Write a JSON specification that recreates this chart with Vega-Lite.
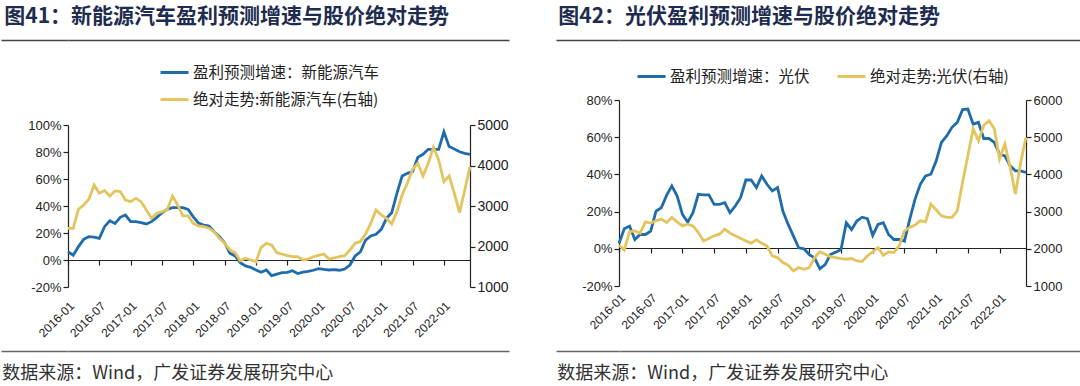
{
  "$schema": "https://vega.github.io/schema/vega-lite/v6.json",
  "background": "white",
  "padding": {"left": 0, "top": 6, "right": 0, "bottom": 0},
  "spacing": 46,
  "resolve": {"scale": {"color": "independent"}, "legend": {"color": "independent"}},
  "config": {
    "view": {"stroke": null},
    "font": "Liberation Sans",
    "axis": {"labelFont": "Liberation Sans", "labelColor": "#222", "labelFontSize": 13, "domainColor": "#222", "tickColor": "#222", "grid": false, "title": null, "tickSize": 5, "domainWidth": 1.2, "tickWidth": 1.2},
    "legend": {"layout": {"top": {"anchor": "middle"}}}
  },
  "datasets": {
    "nev": [
      {"d":"2016-01","g":6.1,"p":2450},{"d":"2016-02","g":3.5,"p":2450},{"d":"2016-03","g":9.9,"p":2919},{"d":"2016-04","g":15.3,"p":3025},{"d":"2016-05","g":17.3,"p":3166},{"d":"2016-06","g":17,"p":3519},{"d":"2016-07","g":16,"p":3314},{"d":"2016-08","g":24.7,"p":3380},{"d":"2016-09","g":29,"p":3248},{"d":"2016-10","g":27,"p":3371},{"d":"2016-11","g":31.6,"p":3355},{"d":"2016-12","g":33.3,"p":3149},
      {"d":"2017-01","g":28.4,"p":3107},{"d":"2017-02","g":28.4,"p":3190},{"d":"2017-03","g":27.7,"p":3107},{"d":"2017-04","g":26.7,"p":2902},{"d":"2017-05","g":28.4,"p":2697},{"d":"2017-06","g":31.6,"p":2820},{"d":"2017-07","g":35,"p":2860},{"d":"2017-08","g":37.5,"p":2902},{"d":"2017-09","g":38.8,"p":3248},{"d":"2017-10","g":38.8,"p":3025},{"d":"2017-11","g":38.8,"p":2754},{"d":"2017-12","g":37.5,"p":2754},
      {"d":"2018-01","g":32,"p":2573},{"d":"2018-02","g":27.3,"p":2510},{"d":"2018-03","g":25.9,"p":2490},{"d":"2018-04","g":25.2,"p":2450},{"d":"2018-05","g":21,"p":2366},{"d":"2018-06","g":17.3,"p":2203},{"d":"2018-07","g":12.8,"p":2079},{"d":"2018-08","g":5,"p":1914},{"d":"2018-09","g":3,"p":1847},{"d":"2018-10","g":-2,"p":1650},{"d":"2018-11","g":-4.4,"p":1709},{"d":"2018-12","g":-5.4,"p":1667},
      {"d":"2019-01","g":-7.4,"p":1625},{"d":"2019-02","g":-9.1,"p":1981},{"d":"2019-03","g":-7.4,"p":2079},{"d":"2019-04","g":-11.6,"p":2037},{"d":"2019-05","g":-10.4,"p":1847},{"d":"2019-06","g":-9.4,"p":1815},{"d":"2019-07","g":-9.1,"p":1773},{"d":"2019-08","g":-7.9,"p":1748},{"d":"2019-09","g":-10,"p":1748},{"d":"2019-10","g":-9,"p":1667},{"d":"2019-11","g":-8.4,"p":1690},{"d":"2019-12","g":-7.6,"p":1748},
      {"d":"2020-01","g":-6.4,"p":1783},{"d":"2020-02","g":-7,"p":1815},{"d":"2020-03","g":-7.4,"p":1690},{"d":"2020-04","g":-7.2,"p":1720},{"d":"2020-05","g":-7.6,"p":1748},{"d":"2020-06","g":-6.7,"p":1773},{"d":"2020-07","g":-3.7,"p":1914},{"d":"2020-08","g":3,"p":2079},{"d":"2020-09","g":6.1,"p":2120},{"d":"2020-10","g":14.8,"p":2309},{"d":"2020-11","g":17.8,"p":2573},{"d":"2020-12","g":19,"p":2902},
      {"d":"2021-01","g":22.7,"p":2778},{"d":"2021-02","g":30.9,"p":2697},{"d":"2021-03","g":35,"p":2556},{"d":"2021-04","g":49.4,"p":2860},{"d":"2021-05","g":62.2,"p":3272},{"d":"2021-06","g":64.2,"p":3561},{"d":"2021-07","g":65.4,"p":3907},{"d":"2021-08","g":76,"p":4055},{"d":"2021-09","g":78.3,"p":3742},{"d":"2021-10","g":82,"p":4055},{"d":"2021-11","g":82,"p":4450},{"d":"2021-12","g":82,"p":4137},
      {"d":"2022-01","g":95,"p":3601},{"d":"2022-02","g":84,"p":3742},{"d":"2022-03","g":82.2,"p":3314},{"d":"2022-04","g":80.2,"p":2835},{"d":"2022-05","g":79,"p":3396},{"d":"2022-06","g":78.3,"p":3971}
    ],
    "pv": [
      {"d":"2016-01","g":2.9,"p":2097},{"d":"2016-02","g":10.8,"p":1970},{"d":"2016-03","g":12.2,"p":2456},{"d":"2016-04","g":5,"p":2482},{"d":"2016-05","g":7.7,"p":2420},{"d":"2016-06","g":7.7,"p":2725},{"d":"2016-07","g":9.5,"p":2690},{"d":"2016-08","g":20.3,"p":2752},{"d":"2016-09","g":22.1,"p":2798},{"d":"2016-10","g":28.7,"p":2709},{"d":"2016-11","g":33.8,"p":2843},{"d":"2016-12","g":28.4,"p":2725},
      {"d":"2017-01","g":18.5,"p":2617},{"d":"2017-02","g":14.3,"p":2663},{"d":"2017-03","g":19.4,"p":2617},{"d":"2017-04","g":29.3,"p":2439},{"d":"2017-05","g":29,"p":2213},{"d":"2017-06","g":29,"p":2277},{"d":"2017-07","g":23.9,"p":2348},{"d":"2017-08","g":23.9,"p":2393},{"d":"2017-09","g":24.8,"p":2528},{"d":"2017-10","g":19.4,"p":2420},{"d":"2017-11","g":23,"p":2348},{"d":"2017-12","g":27.5,"p":2286},
      {"d":"2018-01","g":37,"p":2213},{"d":"2018-02","g":37,"p":2151},{"d":"2018-03","g":32.9,"p":2240},{"d":"2018-04","g":39.2,"p":2151},{"d":"2018-05","g":34.7,"p":2078},{"d":"2018-06","g":31.1,"p":1809},{"d":"2018-07","g":32.9,"p":1765},{"d":"2018-08","g":20.3,"p":1631},{"d":"2018-09","g":13.1,"p":1558},{"d":"2018-10","g":6.8,"p":1404},{"d":"2018-11","g":0.5,"p":1496},{"d":"2018-12","g":0,"p":1450},
      {"d":"2019-01","g":-3.1,"p":1496},{"d":"2019-02","g":-4.9,"p":1765},{"d":"2019-03","g":-10.8,"p":1920},{"d":"2019-04","g":-8.5,"p":1854},{"d":"2019-05","g":-3.1,"p":1792},{"d":"2019-06","g":-1.8,"p":1765},{"d":"2019-07","g":-0.4,"p":1738},{"d":"2019-08","g":14,"p":1720},{"d":"2019-09","g":10.4,"p":1738},{"d":"2019-10","g":14.9,"p":1674},{"d":"2019-11","g":17,"p":1657},{"d":"2019-12","g":16.2,"p":1809},
      {"d":"2020-01","g":7.2,"p":1916},{"d":"2020-02","g":13.1,"p":2035},{"d":"2020-03","g":14,"p":1827},{"d":"2020-04","g":7.7,"p":1916},{"d":"2020-05","g":5,"p":1900},{"d":"2020-06","g":5,"p":2078},{"d":"2020-07","g":4.1,"p":2482},{"d":"2020-08","g":15.8,"p":2574},{"d":"2020-09","g":26.6,"p":2636},{"d":"2020-10","g":34.7,"p":2752},{"d":"2020-11","g":39.2,"p":2725},{"d":"2020-12","g":40.1,"p":3202},
      {"d":"2021-01","g":47.2,"p":3049},{"d":"2021-02","g":57.2,"p":2887},{"d":"2021-03","g":60.7,"p":2843},{"d":"2021-04","g":65.3,"p":2843},{"d":"2021-05","g":68,"p":3022},{"d":"2021-06","g":74.8,"p":3787},{"d":"2021-07","g":75.1,"p":4504},{"d":"2021-08","g":67,"p":5224},{"d":"2021-09","g":68,"p":4908},{"d":"2021-10","g":59.3,"p":5313},{"d":"2021-11","g":59.3,"p":5447},{"d":"2021-12","g":57.2,"p":5224},
      {"d":"2022-01","g":50.9,"p":4415},{"d":"2022-02","g":50,"p":4819},{"d":"2022-03","g":44.6,"p":4191},{"d":"2022-04","g":41.9,"p":3472},{"d":"2022-05","g":41.9,"p":4326},{"d":"2022-06","g":41,"p":5000}
    ]
  },
  "hconcat": [
    {
      "spacing": 10,
      "resolve": {"scale": {"color": "independent"}, "legend": {"color": "independent"}},
      "vconcat": [
        {
          "data": {"values": [{}]},
          "mark": {"type": "point", "opacity": 0},
          "encoding": {
            "x": {"datum": 0, "type": "quantitative", "scale": {"domain": [0, 1]}, "axis": {"orient": "bottom", "ticks": false, "labels": false, "domainColor": "#444", "domainWidth": 1.5}},
            "y": {"datum": 0, "type": "quantitative", "scale": {"domain": [0, 1]}, "axis": {"orient": "left", "values": [0], "tickSize": 67, "tickWidth": 1.5, "tickColor": "#444", "labels": false, "domain": false}}
          },
          "width": 441, "height": 1,
          "title": {"text": "图41：新能源汽车盈利预测增速与股价绝对走势", "anchor": "start", "frame": "bounds", "dx": 4, "offset": 10, "font": "Noto Sans CJK SC", "fontSize": 21, "fontWeight": "bold", "color": "#1e2c4f"}
        },
        {
          "data": {"name": "nev"},
          "width": 402, "height": 162,
          "encoding": {
            "x": {"field": "d", "type": "ordinal", "scale": {"type": "point", "padding": 0},
                  "axis": {"values": ["2016-01","2016-07","2017-01","2017-07","2018-01","2018-07","2019-01","2019-07","2020-01","2020-07","2021-01","2021-07","2022-01"], "labelAngle": -45, "offset": -27, "labelPadding": 35, "labelFontSize": 12}}
          },
          "layer": [
            {
              "mark": {"type": "line", "strokeWidth": 2.8},
              "encoding": {
                "y": {"field": "g", "type": "quantitative", "scale": {"domain": [-20, 100]},
                      "axis": {"orient": "left", "values": [-20,0,20,40,60,80,100], "labelExpr": "datum.value + '%'", "minExtent": 67}},
                "color": {"datum": "盈利预测增速：新能源汽车", "type": "nominal",
                          "scale": {"domain": ["盈利预测增速：新能源汽车", "绝对走势:新能源汽车(右轴)"], "range": ["#1f6cab", "#e3c45e"]},
                          "legend": {"orient": "top", "direction": "vertical", "title": null, "symbolType": "stroke", "symbolSize": 784, "symbolStrokeWidth": 3, "labelFont": "Noto Sans CJK SC", "labelFontSize": 15.5, "labelColor": "#222", "padding": 4, "offset": 13, "rowPadding": 3, "labelOffset": 3, "labelLimit": 400}}
              }
            },
            {
              "mark": {"type": "line", "strokeWidth": 2.8},
              "encoding": {
                "y": {"field": "p", "type": "quantitative", "scale": {"domain": [1000, 5000]},
                      "axis": {"orient": "right", "values": [1000,2000,3000,4000,5000], "format": "d", "labelFontSize": 14, "minExtent": 39}},
                "color": {"datum": "绝对走势:新能源汽车(右轴)", "type": "nominal"}
              }
            }
          ],
          "resolve": {"scale": {"y": "independent"}}
        },
        {
          "data": {"values": [{}]},
          "mark": {"type": "point", "opacity": 0},
          "encoding": {
            "x": {"datum": 0, "type": "quantitative", "scale": {"domain": [0, 1]}, "axis": {"orient": "top", "ticks": false, "labels": false, "domainColor": "#666", "domainWidth": 1.5}},
            "y": {"datum": 0, "type": "quantitative", "scale": {"domain": [0, 1]}, "axis": {"orient": "left", "values": [1], "tickSize": 67, "tickWidth": 1.5, "tickColor": "#666", "labels": false, "domain": false}}
          },
          "width": 441, "height": 1,
          "title": {"text": "数据来源：Wind，广发证券发展研究中心", "orient": "bottom", "anchor": "start", "frame": "bounds", "dx": 2, "offset": 10, "font": "Noto Sans CJK SC", "fontSize": 18, "fontWeight": "normal", "color": "#333"}
        }
      ]
    },
    {
      "spacing": 18,
      "resolve": {"scale": {"color": "independent"}, "legend": {"color": "independent"}},
      "vconcat": [
        {
          "data": {"values": [{}]},
          "mark": {"type": "point", "opacity": 0},
          "encoding": {
            "x": {"datum": 0, "type": "quantitative", "scale": {"domain": [0, 1]}, "axis": {"orient": "bottom", "ticks": false, "labels": false, "domainColor": "#444", "domainWidth": 1.5}},
            "y": {"datum": 0, "type": "quantitative", "scale": {"domain": [0, 1]}, "axis": {"orient": "left", "values": [0], "tickSize": 63, "tickWidth": 1.5, "tickColor": "#444", "labels": false, "domain": false}}
          },
          "width": 463, "height": 1,
          "title": {"text": "图42：光伏盈利预测增速与股价绝对走势", "anchor": "start", "frame": "bounds", "dx": 3, "offset": 10, "font": "Noto Sans CJK SC", "fontSize": 21, "fontWeight": "bold", "color": "#1e2c4f"}
        },
        {
          "data": {"name": "pv"},
          "width": 407, "height": 186,
          "encoding": {
            "x": {"field": "d", "type": "ordinal", "scale": {"type": "point", "padding": 0},
                  "axis": {"values": ["2016-01","2016-07","2017-01","2017-07","2018-01","2018-07","2019-01","2019-07","2020-01","2020-07","2021-01","2021-07","2022-01"], "labelAngle": -45, "offset": -38, "labelPadding": 39, "labelFontSize": 12}}
          },
          "layer": [
            {
              "mark": {"type": "line", "strokeWidth": 2.8},
              "encoding": {
                "y": {"field": "g", "type": "quantitative", "scale": {"domain": [-20, 80]},
                      "axis": {"orient": "left", "values": [-20,0,20,40,60,80], "labelExpr": "datum.value + '%'", "minExtent": 63}},
                "color": {"datum": "盈利预测增速：光伏", "type": "nominal",
                          "scale": {"domain": ["盈利预测增速：光伏", "绝对走势:光伏(右轴)"], "range": ["#1f6cab", "#e3c45e"]},
                          "legend": {"orient": "top", "direction": "horizontal", "title": null, "symbolType": "stroke", "symbolSize": 784, "symbolStrokeWidth": 3, "labelFont": "Noto Sans CJK SC", "labelFontSize": 15.5, "labelColor": "#222", "padding": 0, "offset": 15, "columnPadding": 21, "labelOffset": 3, "labelLimit": 400}}
              }
            },
            {
              "mark": {"type": "line", "strokeWidth": 2.8},
              "encoding": {
                "y": {"field": "p", "type": "quantitative", "scale": {"domain": [1000, 6000]},
                      "axis": {"orient": "right", "values": [1000,2000,3000,4000,5000,6000], "format": "d"}},
                "color": {"datum": "绝对走势:光伏(右轴)", "type": "nominal"}
              }
            }
          ],
          "resolve": {"scale": {"y": "independent"}}
        },
        {
          "data": {"values": [{}]},
          "mark": {"type": "point", "opacity": 0},
          "encoding": {
            "x": {"datum": 0, "type": "quantitative", "scale": {"domain": [0, 1]}, "axis": {"orient": "top", "ticks": false, "labels": false, "domainColor": "#666", "domainWidth": 1.5}},
            "y": {"datum": 0, "type": "quantitative", "scale": {"domain": [0, 1]}, "axis": {"orient": "left", "values": [1], "tickSize": 63, "tickWidth": 1.5, "tickColor": "#666", "labels": false, "domain": false}}
          },
          "width": 463, "height": 1,
          "title": {"text": "数据来源：Wind，广发证券发展研究中心", "orient": "bottom", "anchor": "start", "frame": "bounds", "dx": 2, "offset": 10, "font": "Noto Sans CJK SC", "fontSize": 18, "fontWeight": "normal", "color": "#333"}
        }
      ]
    }
  ]
}
